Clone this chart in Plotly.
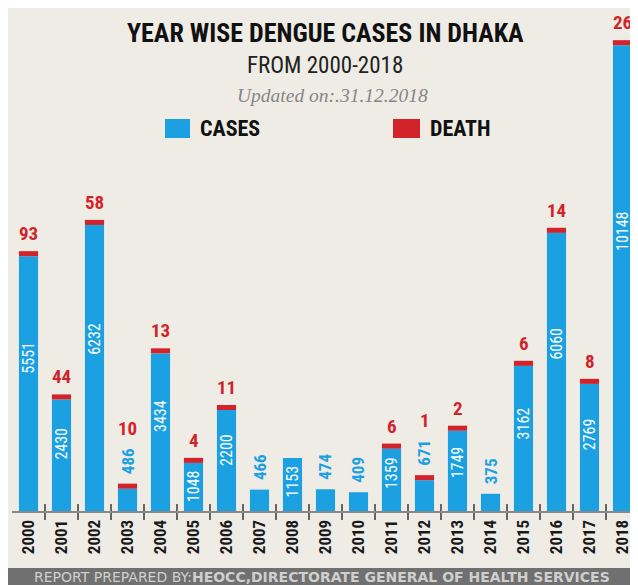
import plotly.graph_objects as go

years = [str(y) for y in range(2000, 2019)]
cases = [5551, 2430, 6232, 486, 3434, 1048, 2200, 466, 1153, 474, 409,
         1359, 671, 1749, 375, 3162, 6060, 2769, 10148]
deaths = [93, 44, 58, 10, 13, 4, 11, 0, 0, 0, 0, 6, 1, 2, 0, 6, 14, 8, 26]

title = "YEAR WISE DENGUE CASES IN DHAKA"
subtitle = "FROM 2000-2018"
updated = "Updated on:.31.12.2018"
footer = "REPORT PREPARED BY:<b>HEOCC,DIRECTORATE GENERAL OF HEALTH SERVICES</b>"

BLUE = "#1ba1e2"
RED = "#d2232a"
BG = "#efece6"
NARROW = "Roboto Condensed, Liberation Sans Narrow, DejaVu Sans Condensed, Roboto, sans-serif"

W, H = 638, 585
OFF = 8  # page offset of the figure in the screenshot
L, R, T, B = 4, 7, 2, 82
PW, PH = W - L - R, H - T - B
YMAX = 10915
CAP = 110
LABEL_FRAC = 0.6
LABEL_PAD = 520


def px(x):
    return (x - OFF - L) / PW


def py(y):
    return (H - B - (y - OFF)) / PH


INSIDE_MIN = 1000
cap_vals = [CAP if d > 0 else 0 for d in deaths]
tops = [c + cv for c, cv in zip(cases, cap_vals)]
idx = list(range(len(years)))
bounds = [i + 0.5 for i in idx[:-1]]

fig = go.Figure()
fig.add_trace(go.Bar(
    x=idx, y=cases, marker=dict(color=BLUE, line=dict(width=0)),
    customdata=years, hovertemplate="%{customdata}: %{y}<extra></extra>",
    showlegend=False,
))
fig.add_trace(go.Bar(
    x=idx, y=cap_vals, base=cases, marker=dict(color=RED, line=dict(width=0)),
    hoverinfo="skip", showlegend=False,
))
# helper (invisible) trace so the upper tick axis is drawn
fig.add_trace(go.Scatter(x=[0], y=[0], xaxis="x2", mode="markers",
                         marker=dict(opacity=0), hoverinfo="skip", showlegend=False))

annotations = []
for i, c, d, top in zip(idx, cases, deaths, tops):
    shift = 4
    if c < INSIDE_MIN:
        annotations.append(dict(
            x=i, y=top, xref="x", yref="y", text="<b>%d</b>" % c, textangle=-90,
            showarrow=False, yanchor="bottom", xanchor="center", yshift=7,
            font=dict(color=BLUE, size=17, family=NARROW),
        ))
        shift = 7 + len(str(c)) * 9.5 + 6
    else:
        yc = max(c / 2, min(c * LABEL_FRAC, c - LABEL_PAD))
        annotations.append(dict(
            x=i, y=yc, xref="x", yref="y", text=str(c), textangle=-90,
            showarrow=False, yanchor="middle", xanchor="center",
            font=dict(color="white", size=16, family=NARROW),
        ))
    if d > 0:
        annotations.append(dict(
            x=i, y=top, xref="x", yref="y", text="<b>%d</b>" % d,
            showarrow=False, yanchor="bottom", xanchor="center", yshift=shift,
            font=dict(color=RED, size=19, family=NARROW),
        ))

annotations += [
    dict(x=px(325), y=py(33), xref="paper", yref="paper", text="<b>" + title + "</b>",
         showarrow=False, xanchor="center", yanchor="middle",
         font=dict(size=26, color="#111", family=NARROW)),
    dict(x=px(325), y=py(66), xref="paper", yref="paper", text=subtitle,
         showarrow=False, xanchor="center", yanchor="middle",
         font=dict(size=23, color="#222", family=NARROW)),
    dict(x=px(332), y=py(95), xref="paper", yref="paper", text="<i>" + updated + "</i>",
         showarrow=False, xanchor="center", yanchor="middle",
         font=dict(size=19.5, color="#868686", family="Liberation Serif, DejaVu Serif, serif")),
    dict(x=px(198), y=py(129), xref="paper", yref="paper", text="<b>CASES</b>",
         showarrow=False, xanchor="left", yanchor="middle",
         font=dict(size=22, color="#111", family=NARROW)),
    dict(x=px(428), y=py(129), xref="paper", yref="paper", text="<b>DEATH</b>",
         showarrow=False, xanchor="left", yanchor="middle",
         font=dict(size=22, color="#111", family=NARROW)),
    dict(x=px(322), y=py(576.5), xref="paper", yref="paper", text=footer,
         showarrow=False, xanchor="center", yanchor="middle",
         font=dict(size=14, color="#cfcfcf", family="DejaVu Sans, sans-serif")),
]

shapes = [
    dict(type="rect", xref="paper", yref="paper", x0=px(0), x1=px(W + OFF), y0=py(H + OFF), y1=py(568),
         fillcolor="#707070", line=dict(width=0), layer="below"),
    dict(type="rect", xref="paper", yref="paper", x0=px(165), x1=px(190), y0=py(138), y1=py(119),
         fillcolor=BLUE, line=dict(width=0)),
    dict(type="rect", xref="paper", yref="paper", x0=px(393), x1=px(420), y0=py(138), y1=py(119),
         fillcolor=RED, line=dict(width=0)),
]

xrange = [-0.5, len(years) - 0.5]
fig.update_layout(
    width=W, height=H,
    margin=dict(l=L, r=R, t=T, b=B, pad=0),
    paper_bgcolor=BG, plot_bgcolor="rgba(0,0,0,0)",
    barmode="overlay", bargap=0.42,
    annotations=annotations, shapes=shapes,
    xaxis=dict(
        range=xrange,
        tickmode="array", tickvals=idx, ticktext=years,
        tickangle=-90,
        ticks="", showline=True, linecolor="#888", linewidth=2,
        showgrid=False, zeroline=False,
        tickfont=dict(size=17, color="#1a1a1a", family=NARROW, weight="bold"),
        fixedrange=True,
        minor=dict(tickmode="array", tickvals=bounds,
                   ticks="outside", ticklen=7, tickwidth=1.5, tickcolor="#666"),
    ),
    xaxis2=dict(
        overlaying="x", anchor="y", side="bottom", range=xrange,
        tickmode="array", tickvals=bounds, ticks="inside", ticklen=7,
        tickwidth=1.5, tickcolor="#666", showticklabels=False,
        showline=False, showgrid=False, zeroline=False, fixedrange=True,
    ),
    yaxis=dict(range=[0, YMAX], visible=False, showgrid=False, zeroline=False, fixedrange=True),
)

fig.write_html("out.html")
